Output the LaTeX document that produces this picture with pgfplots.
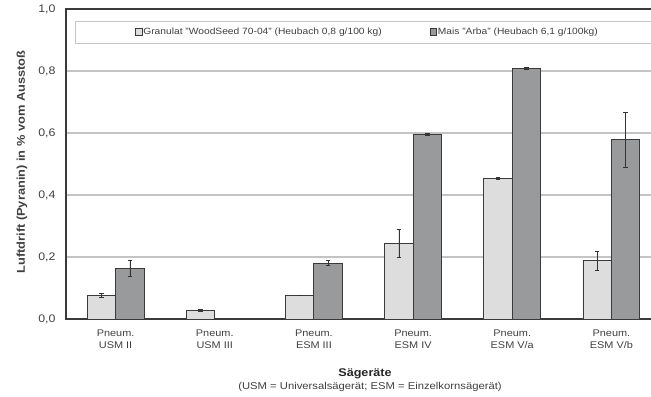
\documentclass[border=0pt]{standalone}
\usepackage{fontspec}
\setmainfont[FakeStretch=1.13]{Liberation Sans}
\usepackage{pgfplots}
\pgfplotsset{compat=1.18}
\definecolor{lightbar}{HTML}{DDDDDD}
\definecolor{darkbar}{HTML}{999A9C}
\definecolor{edge}{HTML}{3A3A3A}
\definecolor{txt}{HTML}{404040}
\definecolor{gridc}{HTML}{C4C4C4}
\begin{document}
\begin{tikzpicture}
\begin{axis}[
  name=ax,
  scale only axis, width=595bp, height=310bp,
  xmin=-0.5, xmax=5.5, ymin=0, ymax=1,
  ytick={0,0.2,0.4,0.6,0.8,1},
  yticklabel style={/pgf/number format/fixed, /pgf/number format/fixed zerofill, /pgf/number format/precision=1, /pgf/number format/use comma, /pgf/number format/assume math mode=true,
    font=\fontsize{11}{13}\selectfont, text=txt, xshift=-7bp},
  xtick={0,1,2,3,4,5},
  xticklabels={{Pneum.\\USM II},{Pneum.\\USM III},{Pneum.\\ESM III},{Pneum.\\ESM IV},{Pneum.\\ESM V/a},{Pneum.\\ESM V/b}},
  xticklabel style={align=center, font=\fontsize{9.7}{12.3}\selectfont, text=txt, yshift=-7.5bp},
  major tick length=0pt,
  ymajorgrids, grid style={gridc, line width=1.2pt},
  axis line style={edge, line width=1.6pt},
  legend columns=2,
  legend style={at={(rel axis cs:0.506,0.926)}, anchor=center, draw=none, fill=none, font=\fontsize{9.1}{11}\selectfont, text=txt,
    nodes={inner sep=1bp}, /tikz/every even column/.append style={column sep=47bp}},
]
\draw[gray!45, line width=1pt, fill=white] (rel axis cs:0.0168,0.890) rectangle (rel axis cs:1,0.961);
\addplot[ybar, bar width=0.287, bar shift=0, fill=lightbar, draw=edge, line width=0.9pt,
  legend image code/.code={\draw[fill=lightbar, draw=edge, line width=0.7pt] (0bp,-3.2bp) rectangle (6.4bp,3.2bp);},
  error bars/.cd, y dir=both, y explicit,
  error bar style={black!80, line width=0.6pt},
  error mark options={rotate=90, mark size=2.3bp, black!80, line width=0.6pt}]
coordinates {
  (-0.1435,0.077) +- (0,0.0065)
  (0.8565,0.028) +- (0,0.002)
  (1.8565,0.077) +- (0,0)
  (2.8565,0.244) +- (0,0.046)
  (3.8565,0.454) +- (0,0.002)
  (4.8565,0.188) +- (0,0.031)
};
\addlegendentry{Granulat "WoodSeed 70-04" (Heubach 0,8 g/100 kg)}
\addplot[ybar, bar width=0.287, bar shift=0, fill=darkbar, draw=edge, line width=0.9pt,
  legend image code/.code={\draw[fill=darkbar, draw=edge, line width=0.7pt] (0bp,-3.2bp) rectangle (6.4bp,3.2bp);},
  error bars/.cd, y dir=both, y explicit,
  error bar style={black!80, line width=0.6pt},
  error mark options={rotate=90, mark size=2.3bp, black!80, line width=0.6pt}]
coordinates {
  (0.1435,0.1635) +- (0,0.027)
  (2.1435,0.180) +- (0,0.008)
  (3.1435,0.596) +- (0,0.003)
  (4.1435,0.809) +- (0,0.002)
  (5.1435,0.578) +- (0,0.089)
};
\addlegendentry{Mais "Arba" (Heubach 6,1 g/100kg)}
\end{axis}
\node[rotate=90, font=\bfseries\fontsize{11.4}{14}\selectfont, text=txt] at ([shift={(-44bp,157bp)}]ax.south west) {Luftdrift (Pyranin) in \% vom Ausstoß};
\node[font=\bfseries\fontsize{11.2}{14}\selectfont, text=black!85] at ([shift={(299bp,-55bp)}]ax.south west) {Sägeräte};
\node[font=\fontsize{10}{12}\selectfont, text=txt] at ([shift={(304bp,-67.5bp)}]ax.south west) {(USM = Universalsägerät; ESM = Einzelkornsägerät)};
\pgfresetboundingbox
\path[use as bounding box] ([shift={(-66bp,-78bp)}]ax.south west) rectangle ([shift={(585bp,319bp)}]ax.south west);
\end{tikzpicture}
\end{document}
